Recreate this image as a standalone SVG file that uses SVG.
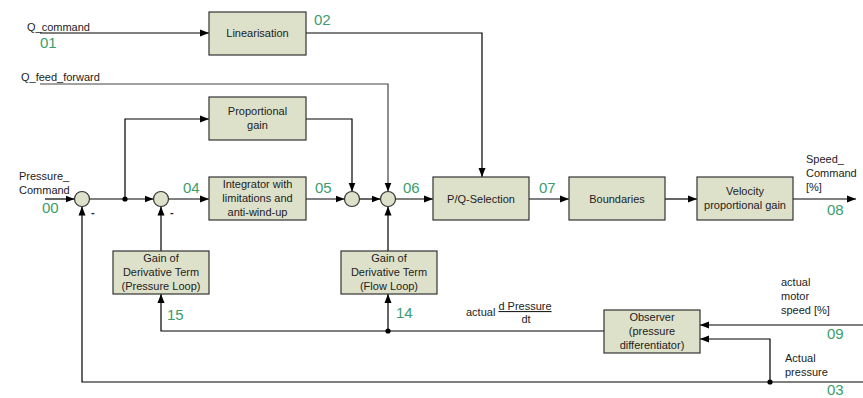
<svg xmlns="http://www.w3.org/2000/svg" width="863" height="398" viewBox="0 0 863 398">
<defs>
<marker id="ah" markerUnits="userSpaceOnUse" markerWidth="9" markerHeight="8" refX="9" refY="4" orient="auto"><path d="M0,0.5 L9,4 L0,7.5 z" fill="#000"/></marker>
<style>
.box{fill:#dee1ca;stroke:#333;stroke-width:1.2}
.t{font-family:"Liberation Sans",Arial,sans-serif;font-size:11px;fill:#222}
.c{text-anchor:middle}
.g{font-family:"Liberation Sans",Arial,sans-serif;font-size:15px;fill:#3a9d6c}
.w{fill:none;stroke:#000;stroke-width:1.2}
.wa{fill:none;stroke:#000;stroke-width:1.2;marker-end:url(#ah)}
</style>
</defs>
<rect width="863" height="398" fill="#fff"/>
<g id="connectors">
<path class="wa" d="M40,33 H209"/>
<path class="wa" d="M306,33 H482 V177"/>
<path class="wa" d="M40,84 H388 V191.5" style="stroke:#444"/>
<path class="wa" d="M45,199 H74.5"/>
<path class="wa" d="M89.5,199 H153.5"/>
<path class="wa" d="M125,199 V119 H209"/>
<path class="wa" d="M306,119 H352 V191.5"/>
<path class="wa" d="M168.5,199 H209"/>
<path class="wa" d="M306,199 H344.5"/>
<path class="wa" d="M359.5,199 H380.5"/>
<path class="wa" d="M395.5,199 H433"/>
<path class="wa" d="M529,199 H569"/>
<path class="wa" d="M665,199 H697"/>
<path class="wa" d="M793,199 H856"/>
<path class="wa" d="M161,251 V206.5"/>
<path class="wa" d="M388,251 V206.5"/>
<path class="wa" d="M604,331 H161 V294"/>
<path class="wa" d="M388,331 V294"/>
<path class="wa" d="M863,325 H700"/>
<path class="wa" d="M863,382 H82 V206.5"/>
<path class="wa" d="M770,382 V339 H700"/>
<circle cx="125" cy="199" r="2.6" fill="#000"/>
<circle cx="388" cy="331" r="2.6" fill="#000"/>
<circle cx="770" cy="382" r="2.6" fill="#000"/>
</g>
<g id="sum1"><circle class="box" cx="82" cy="199" r="7.5"/><text class="t" x="91" y="216" style="font-weight:bold">-</text></g>
<g id="sum2"><circle class="box" cx="161" cy="199" r="7.5"/><text class="t" x="170" y="216" style="font-weight:bold">-</text></g>
<g id="sum3"><circle class="box" cx="352" cy="199" r="7.5"/></g>
<g id="sum4"><circle class="box" cx="388" cy="199" r="7.5"/></g>
<g id="linearisation"><rect class="box" x="209" y="12" width="97" height="43"/><text class="t c" x="257.5" y="37">Linearisation</text></g>
<g id="propgain"><rect class="box" x="209" y="97" width="97" height="43"/><text class="t c" x="257.5" y="115">Proportional</text><text class="t c" x="257.5" y="129">gain</text></g>
<g id="integrator"><rect class="box" x="209" y="177" width="97" height="43"/><text class="t c" x="257.5" y="188">Integrator with</text><text class="t c" x="257.5" y="202">limitations and</text><text class="t c" x="257.5" y="216">anti-wind-up</text></g>
<g id="pqsel"><rect class="box" x="433" y="177" width="96" height="43"/><text class="t c" x="481" y="203">P/Q-Selection</text></g>
<g id="boundaries"><rect class="box" x="569" y="177" width="96" height="43"/><text class="t c" x="617" y="203">Boundaries</text></g>
<g id="velocity"><rect class="box" x="697" y="177" width="96" height="43"/><text class="t c" x="745" y="195">Velocity</text><text class="t c" x="745" y="209">proportional gain</text></g>
<g id="gainpressure"><rect class="box" x="113" y="251" width="96" height="43"/><text class="t c" x="161" y="262">Gain of</text><text class="t c" x="161" y="276">Derivative Term</text><text class="t c" x="161" y="290">(Pressure Loop)</text></g>
<g id="gainflow"><rect class="box" x="341" y="251" width="96" height="43"/><text class="t c" x="389" y="262">Gain of</text><text class="t c" x="389" y="276">Derivative Term</text><text class="t c" x="389" y="290">(Flow Loop)</text></g>
<g id="observer"><rect class="box" x="604" y="310" width="96" height="43"/><text class="t c" x="652" y="321">Observer</text><text class="t c" x="652" y="335">(pressure</text><text class="t c" x="652" y="349">differentiator)</text></g>
<g id="labels">
<text class="t" x="27" y="31">Q_command</text>
<text class="t" x="21" y="81">Q_feed_forward</text>
<text class="t" x="19" y="180">Pressure_</text>
<text class="t" x="19" y="194">Command</text>
<text class="t" x="806" y="163">Speed_</text>
<text class="t" x="806" y="177">Command</text>
<text class="t" x="806" y="191">[%]</text>
<text class="t" x="466" y="316">actual</text>
<text class="t c" x="525" y="310" text-decoration="underline">d Pressure</text>
<text class="t c" x="526" y="323">dt</text>
<text class="t" x="781" y="286">actual</text>
<text class="t" x="781" y="300">motor</text>
<text class="t" x="781" y="314">speed [%]</text>
<text class="t" x="785" y="362">Actual</text>
<text class="t" x="785" y="376">pressure</text>
<text class="g" x="40" y="48">01</text>
<text class="g" x="314" y="25">02</text>
<text class="g" x="42" y="213">00</text>
<text class="g" x="183" y="193">04</text>
<text class="g" x="315" y="193">05</text>
<text class="g" x="403" y="193">06</text>
<text class="g" x="539" y="193">07</text>
<text class="g" x="827" y="215">08</text>
<text class="g" x="827" y="339">09</text>
<text class="g" x="827" y="395">03</text>
<text class="g" x="167" y="320">15</text>
<text class="g" x="396" y="318">14</text>
</g>
</svg>
